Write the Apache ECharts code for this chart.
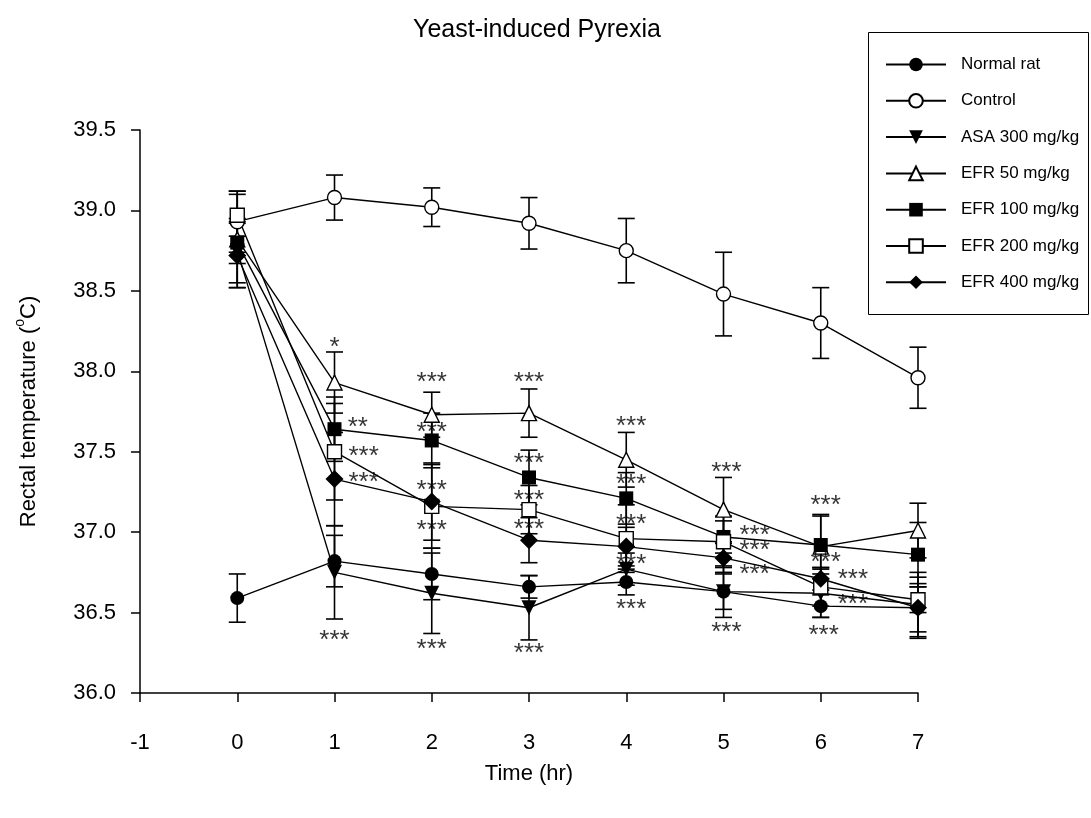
<!DOCTYPE html>
<html>
<head>
<meta charset="utf-8">
<script src="https://cdn.jsdelivr.net/npm/echarts@6/dist/echarts.min.js"></script>
<style>html,body{margin:0;padding:0;background:#fff}#c{width:1091px;height:818px}</style>
</head>
<body>
<div id="c"></div>
<script>
// ---- data ----
const times = [0, 1, 2, 3, 4, 5, 6, 7];
const xTicks = [-1, 0, 1, 2, 3, 4, 5, 6, 7];
const seriesNames = ['Normal rat', 'Control', 'ASA 300 mg/kg', 'EFR 50 mg/kg', 'EFR 100 mg/kg', 'EFR 200 mg/kg', 'EFR 400 mg/kg'];
const normalRat   = [36.59, 36.82, 36.74, 36.66, 36.69, 36.63, 36.54, 36.53];
const normalErr   = [0.15, 0.16, 0.16, 0.07, 0.08, 0.11, 0.07, 0.19];
const control     = [38.93, 39.08, 39.02, 38.92, 38.75, 38.48, 38.30, 37.96];
const controlErr  = [0.19, 0.14, 0.12, 0.16, 0.20, 0.26, 0.22, 0.19];
const asa300      = [38.75, 36.75, 36.62, 36.53, 36.77, 36.63, 36.62, 36.55];
const asaErr      = [0.20, 0.29, 0.25, 0.20, 0.10, 0.16, 0.15, 0.20];
const efr50       = [38.82, 37.93, 37.73, 37.74, 37.45, 37.14, 36.91, 37.01];
const efr50Err    = [0.30, 0.19, 0.14, 0.15, 0.17, 0.20, 0.20, 0.17];
const efr100      = [38.80, 37.64, 37.57, 37.34, 37.21, 36.97, 36.92, 36.86];
const efr100Err   = [0.13, 0.20, 0.17, 0.17, 0.16, 0.10, 0.18, 0.20];
const efr200      = [38.97, 37.50, 37.16, 37.14, 36.96, 36.94, 36.66, 36.58];
const efr200Err   = [0.13, 0.30, 0.26, 0.15, 0.21, 0.16, 0.12, 0.08];
const efr400      = [38.72, 37.33, 37.19, 36.95, 36.91, 36.84, 36.71, 36.53];
const efr400Err   = [0.20, 0.29, 0.24, 0.14, 0.12, 0.09, 0.07, 0.15];
// significance marks: [time, temperature where the mark sits, text]
const marks = [
  [1, 38.19, '*'], [1.24, 37.69, '**'], [1.30, 37.51, '***'], [1.30, 37.35, '***'], [1, 36.37, '***'],
  [2, 37.97, '***'], [2, 37.66, '***'], [2, 37.30, '***'], [2, 37.05, '***'], [2, 36.31, '***'],
  [3, 37.97, '***'], [3, 37.47, '***'], [3, 37.24, '***'], [3, 37.06, '***'], [3, 36.29, '***'],
  [4.05, 37.70, '***'], [4.05, 37.34, '***'], [4.05, 37.09, '***'], [4.05, 36.84, '***'], [4.05, 36.56, '***'],
  [5.03, 37.41, '***'], [5.32, 37.02, '***'], [5.32, 36.93, '***'], [5.32, 36.78, '***'], [5.03, 36.42, '***'],
  [6.05, 37.21, '***'], [6.05, 36.85, '***'], [6.33, 36.75, '***'], [6.33, 36.59, '***'], [6.03, 36.40, '***'],
  [7.06, 37.28, '**'], [7.35, 36.94, '**'], [7.40, 36.85, '***'], [7.40, 36.60, '***'], [7.40, 36.52, '***']
];

const values = [normalRat, control, asa300, efr50, efr100, efr200, efr400];
const errors = [normalErr, controlErr, asaErr, efr50Err, efr100Err, efr200Err, efr400Err];

// ---- styles ----
const FONT = 'Liberation Sans, Arial, sans-serif';
const symbolStyles = [
  { symbol: 'circle', size: 14, fill: '#000' },
  { symbol: 'circle', size: 14, fill: '#fff' },
  { symbol: 'triangle', size: 15, fill: '#000', rotate: 180 },
  { symbol: 'triangle', size: 15, fill: '#fff' },
  { symbol: 'rect', size: 14, fill: '#000' },
  { symbol: 'rect', size: 14, fill: '#fff' },
  { symbol: 'diamond', size: 18, fill: '#000' }
];

const series = [];
// error bars
values.forEach((vals, si) => {
  series.push({
    type: 'custom',
    name: seriesNames[si] + ' err',
    z: 1,
    silent: true,
    data: times.map((t, i) => [t, vals[i] - errors[si][i], vals[i] + errors[si][i]]),
    renderItem: function (params, api) {
      const lo = api.coord([api.value(0), api.value(1)]);
      const hi = api.coord([api.value(0), api.value(2)]);
      const w = 8.5;
      const st = { stroke: '#000', lineWidth: 1.6 };
      return {
        type: 'group',
        children: [
          { type: 'line', shape: { x1: lo[0], y1: lo[1], x2: hi[0], y2: hi[1] }, style: st },
          { type: 'line', shape: { x1: lo[0] - w, y1: lo[1], x2: lo[0] + w, y2: lo[1] }, style: st },
          { type: 'line', shape: { x1: hi[0] - w, y1: hi[1], x2: hi[0] + w, y2: hi[1] }, style: st }
        ]
      };
    }
  });
});
// lines
values.forEach((vals, si) => {
  const s = symbolStyles[si];
  series.push({
    type: 'line',
    name: seriesNames[si],
    z: 3,
    data: times.map((t, i) => [t, vals[i]]),
    symbol: s.symbol,
    symbolSize: s.size,
    symbolRotate: s.rotate || 0,
    showAllSymbol: true,
    lineStyle: { color: '#000', width: 1.4 },
    itemStyle: { color: s.fill, borderColor: '#000', borderWidth: s.fill === '#fff' ? 1.4 : 0, opacity: 1 },
    emphasis: { disabled: true },
    animation: false
  });
});
// significance marks
series.push({
  type: 'scatter',
  name: 'marks',
  z: 4,
  symbolSize: 0,
  silent: true,
  data: marks.map(m => ({ value: [m[0], m[1]], label: { formatter: m[2] } })),
  label: {
    show: true, position: 'inside', color: '#000', fontSize: 26, fontFamily: FONT,
    align: 'center', verticalAlign: 'middle', offset: [0, 7]
  }
});

const chart = echarts.init(document.getElementById('c'), null, { renderer: 'canvas' });
chart.setOption({
  backgroundColor: '#fff',
  animation: false,
  title: {
    text: 'Yeast-induced Pyrexia',
    left: 532, top: 13, textAlign: 'center',
    textStyle: { fontFamily: FONT, fontSize: 25, fontWeight: 'normal', color: '#000' }
  },
  legend: {
    data: seriesNames,
    orient: 'vertical',
    left: 885, top: 56, padding: 0,
    itemWidth: 60, itemHeight: 17, itemGap: 19.3,
    textStyle: { fontFamily: FONT, fontSize: 17, color: '#000', padding: [0, 0, 0, 10] },
    selectedMode: false
  },
  graphic: [{
    type: 'rect', shape: { x: 868.5, y: 32.5, width: 220, height: 282 },
    style: { fill: 'none', stroke: '#000', lineWidth: 1 }, z: 100
  }],
  grid: { left: 140, right: 173, top: 130, bottom: 125 },
  xAxis: {
    type: 'value', min: -1, max: 7, interval: 1,
    name: 'Time (hr)', nameLocation: 'middle', nameGap: 70,
    nameTextStyle: { fontFamily: FONT, fontSize: 22, color: '#000' },
    axisLine: { onZero: false, lineStyle: { color: '#000', width: 1.5 } },
    axisTick: { inside: false, length: 9, lineStyle: { color: '#000', width: 1.5 } },
    axisLabel: { margin: 39, fontFamily: FONT, fontSize: 22, color: '#000',
      formatter: v => (xTicks.indexOf(v) >= 0 ? String(v) : '') },
    splitLine: { show: false }
  },
  yAxis: {
    type: 'value', min: 36, max: 39.5, interval: 0.5,
    name: '{t|Rectal temperature (}{s|o}{t|C)}', nameLocation: 'middle', nameGap: 95, nameRotate: 90,
    nameTextStyle: {
      fontFamily: FONT, fontSize: 22, color: '#000',
      rich: { t: { fontFamily: FONT, fontSize: 22, color: '#000' },
              s: { fontFamily: FONT, fontSize: 14, color: '#000', padding: [0, 0, 18, 0] } }
    },
    axisLine: { show: true, onZero: false, lineStyle: { color: '#000', width: 1.5 } },
    axisTick: { show: true, inside: false, length: 9, lineStyle: { color: '#000', width: 1.5 } },
    axisLabel: { margin: 24, fontFamily: FONT, fontSize: 22, color: '#000', formatter: v => v.toFixed(1) },
    splitLine: { show: false }
  },
  series: series
});
</script>
</body>
</html>
